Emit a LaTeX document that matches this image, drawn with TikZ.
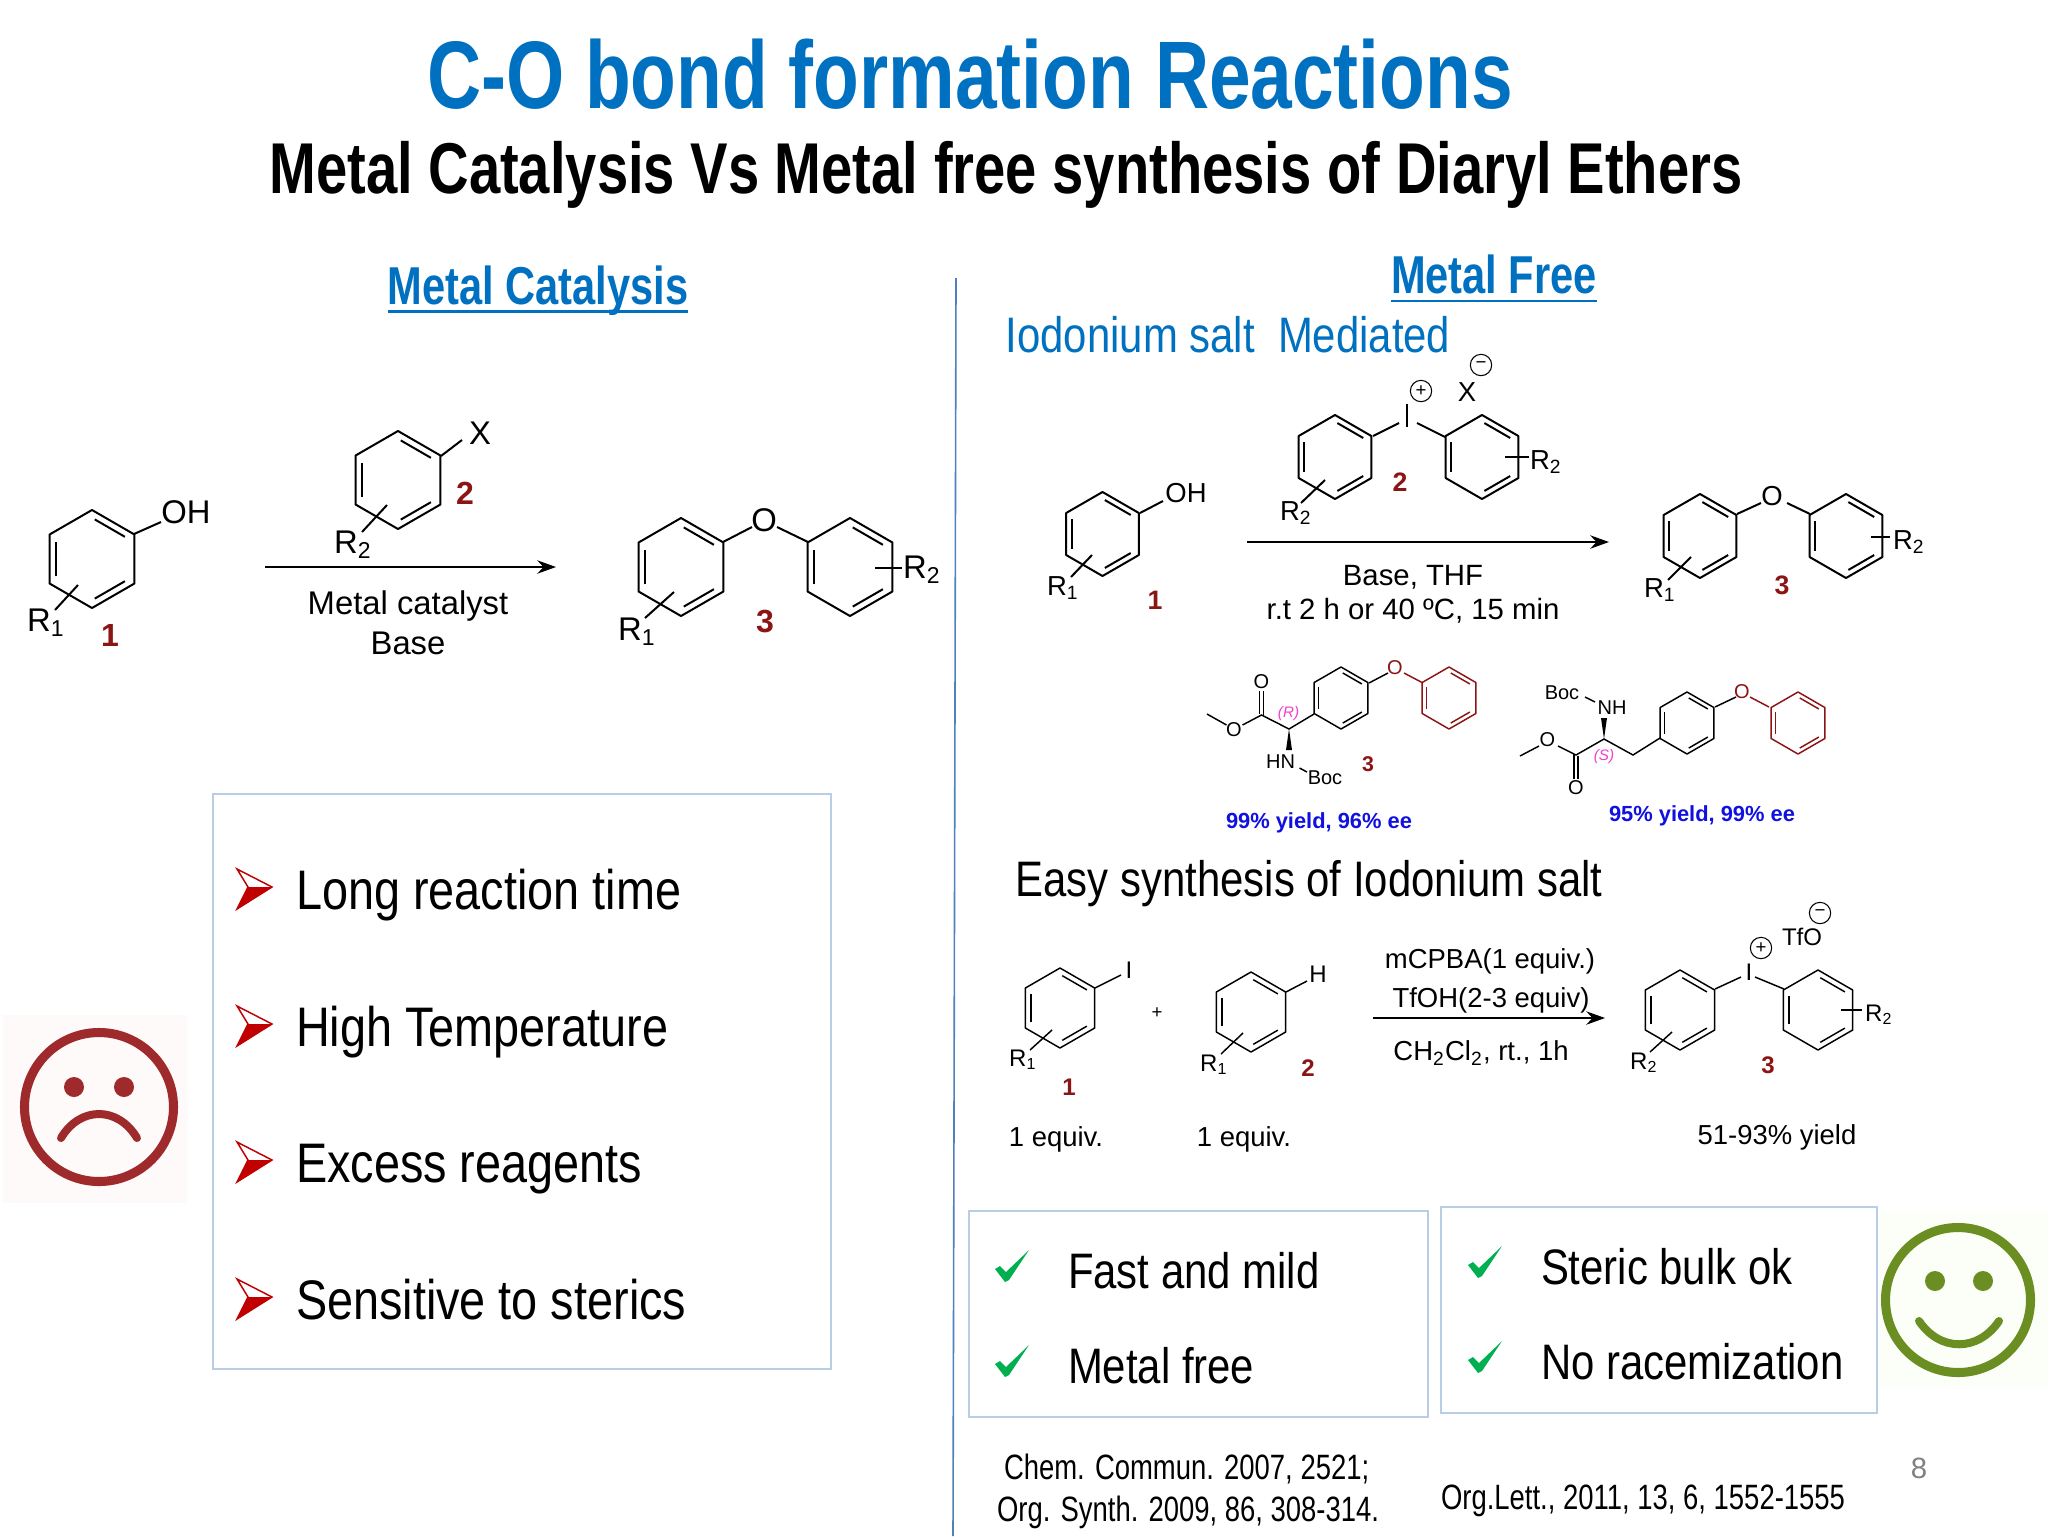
\documentclass[tikz,border=0pt]{standalone}
\usepackage{fontspec}
\usepackage{xcolor}
\usetikzlibrary{arrows.meta}
\usetikzlibrary{calc}
\setmainfont{Liberation Sans}
\newfontfamily\slidefont[FakeStretch=0.84]{Liberation Sans}
\newfontfamily\narrowfont[FakeStretch=0.78]{Liberation Sans}
\definecolor{slideblue}{HTML}{0070C0}
\definecolor{boxline}{HTML}{B9CDE5}
\definecolor{dividerblue}{HTML}{4F81BD}
\definecolor{darkred}{HTML}{8B1414}
\definecolor{bulletred}{HTML}{C00000}
\definecolor{checkgreen}{HTML}{00B050}
\definecolor{sadred}{HTML}{9E2A2B}
\definecolor{smilegreen}{HTML}{6B8E23}
\definecolor{yieldblue}{HTML}{1010E0}
\definecolor{pinkmark}{HTML}{F040D0}

% ring with its corners given by the radius, double bonds inside
\newcommand{\ringat}[4][black]{
	\draw[#1,line join=round] (#2,#3) ++(-90:#4) -- ++(30:#4) -- ++(90:#4) -- ++(150:#4) -- ++(210:#4) -- ++(270:#4) -- cycle;
	\foreach \a/\b in {-86/-34,34/86,154/206}
		\draw[#1] ($(#2,#3)+(\a:0.81*#4)$) -- ($(#2,#3)+(\b:0.81*#4)$);
}

\begin{document}
\begin{tikzpicture}[
	x=0.375pt,y=-0.375pt,
	bond/.style={line width=0.75pt},
	thinbond/.style={line width=0.55pt},
	reaction/.style={line width=0.8pt,-{Stealth[length=7pt,width=5pt]}},
	infobox/.style={draw=boxline,line width=0.7pt},
	chemlarge/.style={font=\fontsize{12.3}{14}\selectfont},
	chemmid/.style={font=\fontsize{10.3}{12}\selectfont},
	chemsmall/.style={font=\fontsize{9}{11}\selectfont},
	chemtiny/.style={font=\fontsize{7.5}{9}\selectfont},
	redno/.style={text=darkred,font=\fontsize{#1}{#1}\selectfont\bfseries},
	yieldtext/.style={text=yieldblue,font=\fontsize{8.2}{10}\selectfont\bfseries},
	marktext/.style={text=pinkmark,font=\fontsize{5.7}{7}\selectfont\itshape},
	listtext/.style={anchor=base west,font=\fontsize{20.9}{24}\slidefont},
	goodtext/.style={anchor=west,font=\fontsize{18.7}{22}\slidefont},
	citetext/.style={anchor=west,font=\fontsize{13.2}{16}\narrowfont},
	chargemark/.style={draw,circle,line width=0.4pt,minimum size=8pt,font=\fontsize{7}{7}\selectfont}]
	\tikzstyle{every node}=[inner sep=0pt,outer sep=0pt]
	\fill[white] (0,0) rectangle (2048,1536);
	\useasboundingbox (0,0) rectangle (2048,1536);

	% headings
	\node[text=slideblue,font=\fontsize{36}{40}\narrowfont\bfseries] (maintitle) at (970,74) {C-O bond formation Reactions};
	\node[font=\fontsize{27}{30}\narrowfont\bfseries] (subtitle) at (1006,175) {Metal Catalysis Vs Metal free synthesis of Diaryl Ethers};
	\node[text=slideblue,font=\fontsize{20}{24}\narrowfont\bfseries] (leftheading) at (538,291) {Metal Catalysis};
	\draw[slideblue,line width=0.9pt] ([yshift=-2.5pt]leftheading.base west) -- ([yshift=-2.5pt]leftheading.base east);
	\node[text=slideblue,font=\fontsize{20}{24}\narrowfont\bfseries] (rightheading) at (1494,274) {Metal Free};
	\draw[slideblue,line width=0.9pt] ([yshift=-3pt]rightheading.base west) -- ([yshift=-3pt]rightheading.base east);
	\node[text=slideblue,font=\fontsize{18.7}{22}\slidefont] (iodonium) at (1228,335) {Iodonium salt\ \ Mediated};
	\node[font=\fontsize{18.7}{22}\slidefont] (easysynth) at (1309,884) {Easy synthesis of Iodonium salt};
	\coordinate (dividertop) at (956,278);
	\coordinate (dividerbottom) at (953,1536);
	\draw[dividerblue,line width=0.6pt] (dividertop) -- (dividerbottom);

	% metal catalysis
	\begin{scope}[bond]
		\ringat{92}{559}{49}
		\draw (134,534) -- (161,522);
		\draw (78,585) -- (55,610);
		\ringat{398}{480}{49}
		\draw (441,456) -- (462,440);
		\draw (387,505) -- (362,532);
		\ringat{681}{567}{49}
		\ringat{850}{567}{49}
		\draw (723,542) -- (752,527);
		\draw (777,527) -- (808,542);
		\draw (674,592) -- (645,618);
		\draw (875,568) -- (902,568);
	\end{scope}
	\node[chemlarge] (phenolOH) at (186,512) {OH};
	\node[chemlarge] (phenolR) at (46,623) {R\textsubscript{1}};
	\node[redno=12] (phenolno) at (110,635) {1};
	\node[chemlarge] (halideX) at (480,433) {X};
	\node[chemlarge] (halideR) at (353,545) {R\textsubscript{2}};
	\node[redno=12] (halideno) at (465,493) {2};
	\coordinate (metalstart) at (265,567);
	\coordinate (metalend) at (556,567);
	\draw[reaction] (metalstart) -- (metalend);
	\node[chemlarge] (catalyst) at (408,606) {Metal catalyst};
	\node[chemlarge] (basetext) at (408,643) {Base};
	\node[chemlarge] (etherO) at (764,520) {O};
	\node[chemlarge] (etherRa) at (637,632) {R\textsubscript{1}};
	\node[chemlarge] (etherRb) at (922,570) {R\textsubscript{2}};
	\node[redno=12] (etherno) at (765,621) {3};

	% drawbacks
	\draw[infobox] (213,794) rectangle (831,1369);
	\foreach \y/\txt/\nm in {889/Long reaction time/long,1026/High Temperature/high,1162/Excess reagents/excess,1299/Sensitive to sterics/steric}{
		\fill[bulletred] (237,\y+20) -- (272,\y-2) -- (248,\y-2) -- cycle;
		\draw[bulletred,line width=0.55pt,line join=miter] (237,\y-20) -- (272,\y-2) -- (237,\y+20) -- (248,\y-2) -- cycle;
		\node[listtext] (\nm) at (296,\y+20) {\txt};
	}
	\fill[red!2!white] (3,1015) rectangle (187,1203);
	\draw[sadred,line width=3.4pt] (99,1107) circle (74.5);
	\fill[sadred] (74,1087) circle (10) (124,1087) circle (10);
	\draw[sadred,line width=3pt,line cap=round] (61,1138) .. controls (80,1106) and (118,1106) .. (137,1138);

	% iodonium route
	\begin{scope}[bond]
		\ringat{1102.5}{534}{42}
		\draw (1140,513) -- (1163,501);
		\draw (1092,555) -- (1071,577);
		\ringat{1335}{457}{42}
		\ringat{1482}{457}{42}
		\draw (1373,436) -- (1399,423);
		\draw (1417,423) -- (1445,437);
		\draw (1407,404) -- (1407,427);
		\draw (1505,457) -- (1529,457);
		\draw (1325,480) -- (1301,503);
		\ringat{1700}{536}{42}
		\ringat{1846}{536}{42}
		\draw (1737,514) -- (1761,503);
		\draw (1787,503) -- (1810,514);
		\draw (1691,557) -- (1668,580);
		\draw (1871,537) -- (1890,537);
	\end{scope}
	\node[chemmid] (routeOH) at (1186,493) {OH};
	\node[chemmid] (routeR) at (1063,588) {R\textsubscript{1}};
	\node[redno=10] (routeno) at (1155,600) {1};
	\node[chargemark] (saltplus) at (1421,391) {+};
	\node[chemmid] (saltX) at (1467,392) {X};
	\node[chargemark] (saltminus) at (1481,365) {−};
	\node[chemmid] (saltRa) at (1546,462) {R\textsubscript{2}};
	\node[chemmid] (saltRb) at (1296,513) {R\textsubscript{2}};
	\node[redno=10] (saltno) at (1400,482) {2};
	\coordinate (routestart) at (1247,542);
	\coordinate (routeend) at (1609,542);
	\draw[reaction] (routestart) -- (routeend);
	\node[font=\fontsize{11}{13}\selectfont] (routebase) at (1413,577) {Base, THF};
	\node[font=\fontsize{11}{13}\selectfont] (routecond) at (1413,611) {r.t 2 h or 40 ºC, 15 min};
	\node[chemmid] (productO) at (1772,496) {O};
	\node[chemmid] (productRa) at (1660,590) {R\textsubscript{1}};
	\node[chemmid] (productRb) at (1909,542) {R\textsubscript{2}};
	\node[redno=10] (productno) at (1782,585) {3};

	% examples
	\begin{scope}[thinbond]
		\ringat{1341}{698}{31}
		\ringat[darkred]{1449}{698}{31}
		\draw (1369,683) -- (1388,673);
		\draw[darkred] (1404,673) -- (1423,683);
		\draw (1314,714) -- (1289,729) -- (1261.5,715) -- (1242.5,725);
		\draw (1226.5,725) -- (1207,714);
		\draw (1259.5,714) -- (1259.5,691) (1263.5,716) -- (1263.5,691);
		\draw (1299.5,768) -- (1307,772);
		\ringat{1687}{723}{31}
		\ringat[darkred]{1798}{723}{31}
		\draw (1715,707) -- (1736,697);
		\draw[darkred] (1750,697) -- (1769,707);
		\draw (1660,738) -- (1633,755) -- (1604,739) -- (1576,755) -- (1558,746);
		\draw (1539,746) -- (1520,756);
		\draw (1574,754) -- (1574,779) (1578,756) -- (1578,779);
		\draw (1585,697) -- (1595,702);
	\end{scope}
	\fill (1289,729) -- (1286,750) -- (1292,750) -- cycle;
	\fill (1604,739) -- (1601,718) -- (1607,718) -- cycle;
	\node[chemtiny] (esterOa) at (1261.5,682) {O};
	\node[chemtiny] (esterOb) at (1234,730) {O};
	\node[chemtiny,text=darkred] (ethOa) at (1395,668) {O};
	\node[chemtiny] (aminoa) at (1280.5,762) {HN};
	\node[chemtiny] (boca) at (1325,778) {Boc};
	\node[marktext] (markR) at (1288.5,714) {(R)};
	\node[redno=8] (exampleno) at (1368,764) {3};
	\node[yieldtext] (yielda) at (1319,823) {99\% yield, 96\% ee};
	\node[chemtiny] (esterOc) at (1576,788) {O};
	\node[chemtiny] (esterOd) at (1547.5,740) {O};
	\node[chemtiny,text=darkred] (ethOb) at (1742,692) {O};
	\node[chemtiny] (aminob) at (1612,708) {NH};
	\node[chemtiny] (bocb) at (1562,693) {Boc};
	\node[marktext] (markS) at (1604,757) {(S)};
	\node[yieldtext] (yieldb) at (1702,816) {95\% yield, 99\% ee};

	% salt synthesis
	\begin{scope}[thinbond]
		\ringat{1060}{1008}{40}
		\draw (1095,988) -- (1121,975);
		\draw (1052,1030) -- (1030,1050);
		\ringat{1251}{1012}{40}
		\draw (1286,992) -- (1307,981);
		\draw (1243,1033) -- (1221,1054);
		\ringat{1680}{1010}{40}
		\ringat{1818}{1010}{40}
		\draw (1715,989) -- (1741,977);
		\draw (1755,977) -- (1784,989);
		\draw (1672,1032) -- (1650,1052);
		\draw (1841,1010) -- (1862,1010);
	\end{scope}
	\node[chemsmall] (arylI) at (1129,970) {I};
	\node[chemsmall] (arylRa) at (1023,1060) {R\textsubscript{1}};
	\node[redno=9] (arylno) at (1069,1087) {1};
	\node[font=\fontsize{7}{8}\selectfont] (plusmark) at (1157,1013) {+};
	\node[chemsmall] (areneH) at (1318,974) {H};
	\node[chemsmall] (areneR) at (1214,1065) {R\textsubscript{1}};
	\node[redno=9] (areneno) at (1308,1068) {2};
	\coordinate (saltstart) at (1373,1018);
	\coordinate (saltend) at (1605,1018);
	\draw[reaction] (saltstart) -- (saltend);
	\node[chemmid] (oxidant) at (1490,961) {mCPBA(1 equiv.)};
	\node[chemmid] (acid) at (1491,1000) {TfOH(2-3 equiv)};
	\node[chemmid] (solvent) at (1481,1053) {CH\textsubscript{2}Cl\textsubscript{2}, rt., 1h};
	\node[chemsmall] (saltI) at (1749,972) {I};
	\node[chargemark] (triflplus) at (1761,948) {+};
	\node[chemsmall] (triflate) at (1802,937) {TfO};
	\node[chargemark] (triflminus) at (1820,913) {−};
	\node[chemsmall] (triflRa) at (1644,1063) {R\textsubscript{2}};
	\node[chemsmall] (triflRb) at (1879,1015) {R\textsubscript{2}};
	\node[redno=9] (triflno) at (1768,1065) {3};
	\node[chemmid] (equiva) at (1056,1139) {1 equiv.};
	\node[chemmid] (equivb) at (1244,1139) {1 equiv.};
	\node[chemmid] (rangeyield) at (1777,1137) {51-93\% yield};

	% advantages
	\draw[infobox] (969,1211) rectangle (1428,1417);
	\draw[infobox] (1441,1207) rectangle (1877,1413);
	\foreach \x/\y/\txt/\nm in {1012/1267/Fast and mild/fast,1012/1362/Metal free/free,1485/1263/Steric bulk ok/bulk,1485/1358/No racemization/racem}{
		\fill[checkgreen] (\x-17,\y+2) -- (\x-12,\y-1) -- (\x-6,\y+5) -- (\x+17,\y-17) -- (\x-3,\y+13) -- (\x-7,\y+15) -- cycle;
		\node[goodtext] (\nm) at (\x+56,\y+4) {\txt};
	}
	\fill[green!40!yellow!3!white] (1880,1213) rectangle (2048,1387);
	\draw[smilegreen,line width=3.4pt] (1958,1300) circle (72.5);
	\fill[smilegreen] (1935,1281) circle (10) (1983,1281) circle (10);
	\draw[smilegreen,line width=3pt,line cap=round] (1919,1321) .. controls (1940,1352) and (1978,1352) .. (1999,1321);

	% references
	\node[citetext] (citea) at (1004,1469) {Chem. Commun. 2007, 2521;};
	\node[citetext] (citeb) at (997,1512) {Org. Synth. 2009, 86, 308-314.};
	\node[citetext] (citec) at (1441,1501) {Org.Lett., 2011, 13, 6, 1552-1555};
	\node[text=black!50,font=\fontsize{11}{13}\selectfont] (pageno) at (1919,1468) {8};
\end{tikzpicture}
\end{document}
